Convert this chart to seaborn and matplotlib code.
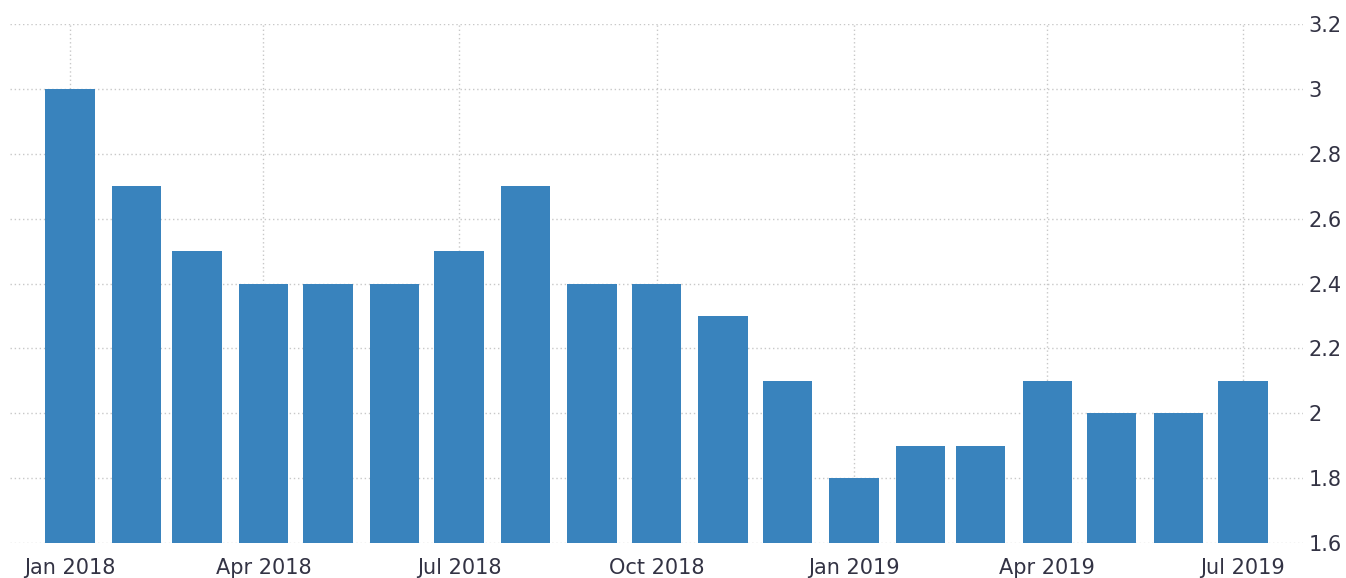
import pandas as pd
import numpy as np
import matplotlib.pyplot as plt
import matplotlib.dates as mdates
import seaborn as sns

# monthly values, Jan 2018 .. Jul 2019
months = pd.date_range('2018-01-01', '2019-07-01', freq='MS')
values = [3.0, 2.7, 2.5, 2.4, 2.4, 2.4, 2.5, 2.7, 2.4, 2.4, 2.3, 2.1,
          1.8, 1.9, 1.9, 2.1, 2.0, 2.0, 2.1]
yticks = [1.6, 1.8, 2.0, 2.2, 2.4, 2.6, 2.8, 3.0, 3.2]
ytick_labels = ['1.6', '1.8', '2', '2.2', '2.4', '2.6', '2.8', '3', '3.2']
xtick_dates = pd.to_datetime(['2018-01-01', '2018-04-01', '2018-07-01', '2018-10-01',
                              '2019-01-01', '2019-04-01', '2019-07-01'])
xtick_labels = ['Jan 2018', 'Apr 2018', 'Jul 2018', 'Oct 2018',
                'Jan 2019', 'Apr 2019', 'Jul 2019']

sns.set_style('white')
plt.rcParams['font.family'] = ['DejaVu Sans']

fig = plt.figure(figsize=(13.46, 5.78), dpi=100)
ax = fig.add_axes([10 / 1346, 1 - 543 / 578, (1303 - 10) / 1346, (543 - 24) / 578])

x_num = mdates.date2num(months)
df = pd.DataFrame({'x': x_num, 'y': values})
sns.barplot(data=df, x='x', y='y', native_scale=True, width=0.82,
            color='#3983bd', saturation=1, linewidth=0, ax=ax, zorder=2)

ax.set_ylim(1.6, 3.2)
ax.set_xlim(mdates.date2num(pd.Timestamp('2017-12-04')),
            mdates.date2num(pd.Timestamp('2019-07-29')))

ax.set_yticks(yticks)
ax.set_yticklabels(ytick_labels)
ax.set_xticks(mdates.date2num(xtick_dates))
ax.set_xticklabels(xtick_labels)
ax.yaxis.tick_right()

for s in ax.spines.values():
    s.set_visible(False)

ax.grid(True, color='#c8c8c8', linestyle=(0, (1, 2)), linewidth=1, zorder=0)
ax.set_axisbelow(True)
ax.tick_params(axis='y', length=0, pad=4, labelsize=15, labelcolor='#333344')
ax.tick_params(axis='x', length=5, color='#c8c8c8', pad=6, labelsize=15, labelcolor='#333344')
ax.set_xlabel('')
ax.set_ylabel('')

plt.savefig('out.png', dpi=100)
plt.close()
